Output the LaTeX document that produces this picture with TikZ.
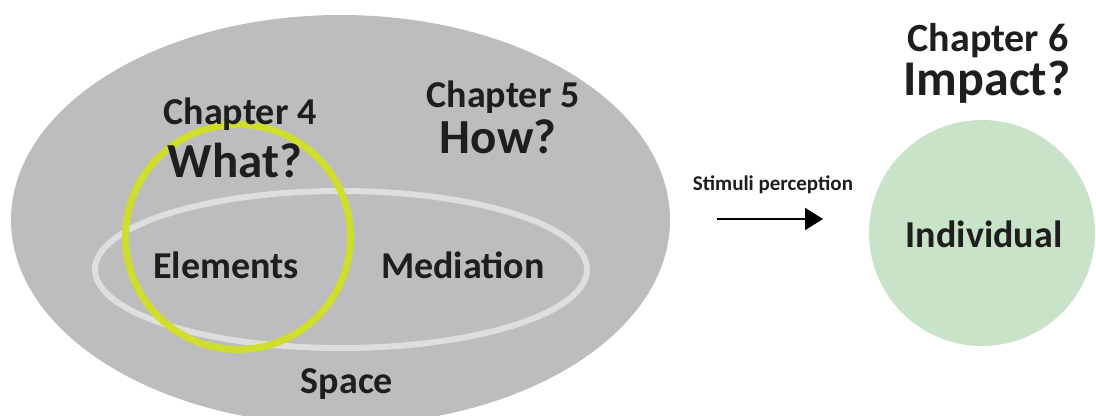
\documentclass[tikz,border=0pt]{standalone}
\usepackage{fontspec}
\setmainfont{Carlito}
\usetikzlibrary{arrows.meta}
\definecolor{spacegray}{HTML}{BDBDBF}
\definecolor{mediaring}{HTML}{DEDEDE}
\definecolor{elemring}{HTML}{CFDD2C}
\definecolor{indivgreen}{HTML}{C8E3C8}
\definecolor{inktext}{HTML}{1E1E1E}
\tikzset{
  lbl/.style={inner sep=0pt, anchor=base, text=inktext, font=\bfseries\fontsize{#1}{#1}\selectfont},
  flow/.style={line width=1pt, -{Triangle[length=9pt,width=11pt]}},
}
\begin{document}
\begin{tikzpicture}[x=0.5pt,y=-0.5pt]
\useasboundingbox (0,0) rectangle (1096,416);
% space: the large gray field
\fill[spacegray] (340.5,220) ellipse [x radius=329.5, y radius=205];
% mediation ring
\draw[mediaring, line width=3pt] (341,269.5) ellipse [x radius=246, y radius=78.5];
% elements ring
\draw[elemring, line width=3.5pt] (238,237) circle [radius=112.5];
% individual
\fill[indivgreen] (982,233) circle [radius=113];

\node[lbl=19] (ch4) at (240,125) {Chapter 4};
\node[lbl=24.5] (what) at (235,178) {What?};
\node[lbl=19] (ch5) at (503,108) {Chapter 5};
\node[lbl=24.5] (how) at (498,154) {How?};
\node[lbl=19] (elem) at (226,279) {Elements};
\node[lbl=19] (med) at (463,279) {Mediation};
\node[lbl=19] (space) at (347,393) {Space};
\node[lbl=10.5] (stim) at (773,191) {Stimuli perception};
\node[lbl=20] (ch6) at (988,52) {Chapter 6};
\node[lbl=25] (impact) at (987,96) {Impact?};
\node[lbl=19] (indiv) at (984,248) {Individual};

\coordinate (arrS) at (717,219);
\coordinate (arrE) at (823,219);
\draw[flow] (arrS) -- (arrE);
\end{tikzpicture}
\end{document}
